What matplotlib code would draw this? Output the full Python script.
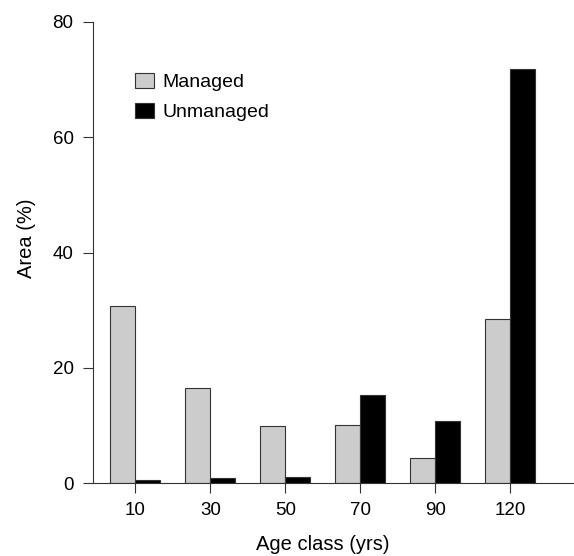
import numpy as np
import matplotlib.pyplot as plt

plt.rcParams['font.family'] = ['Liberation Sans', 'DejaVu Sans']

# data
age_classes = ['10', '30', '50', '70', '90', '120']
managed = [30.7, 16.5, 9.9, 10.0, 4.4, 28.5]
unmanaged = [0.5, 0.8, 1.0, 15.3, 10.7, 71.8]

fig = plt.figure(figsize=(5.74, 5.56), dpi=100)
ax = fig.add_axes([93 / 574, 73 / 556, 481 / 574, 461 / 556])

# groups of two bars with one bar-width gap between groups
centers = np.arange(len(age_classes)) * 3.0
ax.bar(centers - 0.5, managed, width=1.0, color='#cccccc',
       edgecolor='#333333', linewidth=0.8, label='Managed')
ax.bar(centers + 0.5, unmanaged, width=1.0, color='black',
       edgecolor='#333333', linewidth=0.8, label='Unmanaged')

ax.set_xlim(-1.7, 17.56)
ax.set_ylim(0, 80)
ax.set_xticks(centers)
ax.set_xticklabels(age_classes)
ax.set_yticks([0, 20, 40, 60, 80])

for s in ['top', 'right']:
    ax.spines[s].set_visible(False)
for s in ['left', 'bottom']:
    ax.spines[s].set_color('#333333')
    ax.spines[s].set_linewidth(0.8)

ax.tick_params(direction='out', length=7, width=0.8, color='#333333',
               labelsize=13.5, pad=7)

ax.set_xlabel('Age class (yrs)', fontsize=14.5)
ax.set_ylabel('Area (%)', fontsize=14.5)
ax.xaxis.set_label_coords((322.5 - 93) / 481, (483 - 535) / 461)
ax.yaxis.set_label_coords((36 - 93) / 481, (483 - 238) / 461)

ax.legend(loc='upper left', bbox_to_anchor=(135 / 574, 1 - 73 / 556),
          bbox_transform=fig.transFigure, frameon=False, fontsize=14,
          handlelength=1.0, handleheight=0.8, handletextpad=0.4,
          labelspacing=0.6, borderpad=0, borderaxespad=0)

fig.savefig('out.png', dpi=100)
